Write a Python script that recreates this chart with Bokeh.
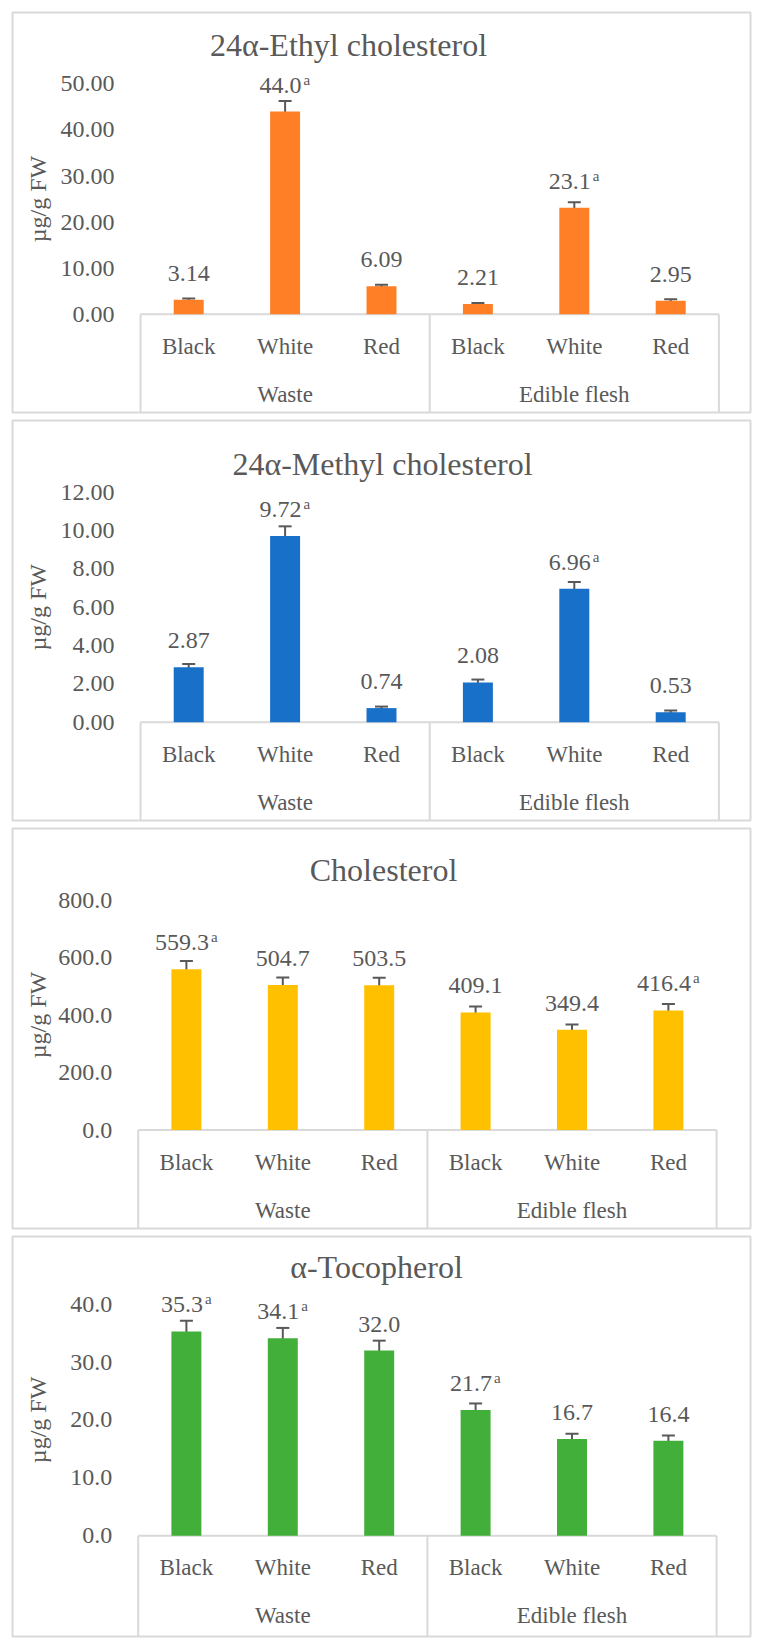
import math
from bokeh.plotting import figure
from bokeh.models import Range1d, FixedTicker, ColumnDataSource, Whisker, TeeHead, LinearAxis
from bokeh.layouts import column
from bokeh.embed import file_html
from bokeh.resources import INLINE
from bokeh.core.properties import value

# ---------------- data ----------------
groups = ["Waste", "Edible flesh"]
categories = ["Black", "White", "Red"]

ethyl_title = "24α-Ethyl cholesterol"
ethyl_values = [3.14, 44.0, 6.09, 2.21, 23.1, 2.95]
ethyl_errors = [0.3, 2.3, 0.3, 0.25, 1.2, 0.3]
ethyl_labels = ["3.14", "44.0", "6.09", "2.21", "23.1", "2.95"]
ethyl_sup = ["", "a", "", "", "a", ""]
ethyl_ticks = [0, 10, 20, 30, 40, 50]
ethyl_tick_labels = ["0.00", "10.00", "20.00", "30.00", "40.00", "50.00"]

methyl_title = "24α-Methyl cholesterol"
methyl_values = [2.87, 9.72, 0.74, 2.08, 6.96, 0.53]
methyl_errors = [0.17, 0.5, 0.08, 0.15, 0.36, 0.08]
methyl_labels = ["2.87", "9.72", "0.74", "2.08", "6.96", "0.53"]
methyl_sup = ["", "a", "", "", "a", ""]
methyl_ticks = [0, 2, 4, 6, 8, 10, 12]
methyl_tick_labels = ["0.00", "2.00", "4.00", "6.00", "8.00", "10.00", "12.00"]

chol_title = "Cholesterol"
chol_values = [559.3, 504.7, 503.5, 409.1, 349.4, 416.4]
chol_errors = [29, 26, 26, 21, 18, 22]
chol_labels = ["559.3", "504.7", "503.5", "409.1", "349.4", "416.4"]
chol_sup = ["a", "", "", "", "", "a"]
chol_ticks = [0, 200, 400, 600, 800]
chol_tick_labels = ["0.0", "200.0", "400.0", "600.0", "800.0"]

toco_title = "α-Tocopherol"
toco_values = [35.3, 34.1, 32.0, 21.7, 16.7, 16.4]
toco_errors = [1.85, 1.8, 1.7, 1.15, 0.9, 0.9]
toco_labels = ["35.3", "34.1", "32.0", "21.7", "16.7", "16.4"]
toco_sup = ["a", "a", "", "a", "", ""]
toco_ticks = [0, 10, 20, 30, 40]
toco_tick_labels = ["0.0", "10.0", "20.0", "30.0", "40.0"]

y_label = "µg/g FW"

# ---------------- style / layout ----------------
FONT = "Liberation Serif"
TXT = "#595959"
LINE = "#d9d9d9"
ERR = "#595959"
PANEL_PITCH = 408
FRAME_H = 400
FRAME_L, FRAME_R = 12, 750
UNIT = 96.4            # px per category slot
BAR_W = 0.311


def text_width(s, size):
    w = 0.0
    for ch in s:
        w += 0.25 if ch == "." else 0.5
    return w * size


def make_panel(idx, title, vals, errs, labels, sups, color, ticks, tick_labels, geom):
    frame_top = 12 + PANEL_PITCH * idx
    frame_bottom = frame_top + FRAME_H
    top_border = 12 if idx == 0 else 4
    fig_h = FRAME_H + top_border + 4
    z, t = geom["zero"], geom["top"]
    T = ticks[-1]
    ppu = (z - t) / T
    y0 = -(frame_bottom - z) / ppu
    y1 = (z - frame_top) / ppu
    L = geom["left"]
    x0 = -0.5 - (L - FRAME_L) / UNIT
    x1 = x0 + (FRAME_R - FRAME_L) / UNIT

    p = figure(width=FRAME_R + 4, height=fig_h, x_range=Range1d(x0, x1), y_range=Range1d(y0, y1),
               output_backend="svg", toolbar_location=None,
               x_axis_type=None, y_axis_type=None,
               min_border_left=FRAME_L, min_border_right=4, min_border_top=top_border,
               min_border_bottom=4)
    p.outline_line_color = LINE
    p.outline_line_width = 2
    p.background_fill_color = "white"
    p.border_fill_color = "white"

    n = len(vals)
    xs = list(range(n))

    # y axis
    ax = LinearAxis(ticker=FixedTicker(ticks=ticks), fixed_location=-0.5)
    ax.major_label_overrides = {tk: lb for tk, lb in zip(ticks, tick_labels)}
    ax.axis_line_color = None
    ax.major_tick_line_color = None
    ax.minor_tick_line_color = None
    ax.major_tick_in = 0
    ax.major_tick_out = 0
    ax.major_label_standoff = 26
    ax.major_label_text_font = FONT
    ax.major_label_text_font_size = "24px"
    ax.major_label_text_color = TXT
    p.add_layout(ax, "left")

    # category box lines
    ncat = len(categories)
    p.segment(x0=[-0.5], y0=[0], x1=[n - 0.5], y1=[0], line_color=LINE, line_width=2)
    vx = [g * ncat - 0.5 for g in range(len(groups) + 1)]
    p.segment(x0=vx, y0=[0] * len(vx), x1=vx, y1=[y0] * len(vx), line_color=LINE, line_width=2)

    # bars
    p.vbar(x=xs, top=vals, bottom=0, width=BAR_W, fill_color=color, line_color=None)

    # error bars
    src = ColumnDataSource(dict(x=xs, upper=[v + e for v, e in zip(vals, errs)],
                                lower=[v - e for v, e in zip(vals, errs)]))
    w = Whisker(base="x", upper="upper", lower="lower", source=src,
                line_color=ERR, line_width=2,
                upper_head=TeeHead(size=13, line_color=ERR, line_width=2),
                lower_head=TeeHead(size=13, line_color=ERR, line_width=2))
    p.add_layout(w)

    # data labels (y = visual centre of the text)
    main_x, main_y, sup_x, sup_y, sup_t = [], [], [], [], []
    for i, (v, lb, s) in enumerate(zip(vals, labels, sups)):
        wm = text_width(lb, 24)
        if s:
            main_x.append(i - 4.5 / UNIT)
            sup_x.append(i + (wm / 2 - 2.5) / UNIT)
            sup_y.append(v + 32 / ppu)
            sup_t.append(s)
        else:
            main_x.append(i)
        main_y.append(v + 26.5 / ppu)
    p.text(x=main_x, y=main_y, text=labels, text_align="center", text_baseline="alphabetic",
           text_font=value(FONT), text_font_size="24px", text_color=TXT)
    if sup_t:
        p.text(x=sup_x, y=sup_y, text=sup_t, text_align="left", text_baseline="alphabetic",
               text_font=value(FONT), text_font_size="15px", text_color=TXT)

    # category labels
    cat_labels = [c for g in groups for c in categories]
    p.text(x=xs, y=[-32 / ppu] * n, text=cat_labels, text_align="center",
           text_baseline="alphabetic", text_font=value(FONT), text_font_size="23px", text_color=TXT)
    gx = [g * ncat + (ncat - 1) / 2 for g in range(len(groups))]
    p.text(x=gx, y=[-80 / ppu] * len(groups), text=groups, text_align="center",
           text_baseline="alphabetic", text_font=value(FONT), text_font_size="23px", text_color=TXT)

    # axis title
    p.text(x=[(37 - L) / UNIT - 0.5], y=[T / 2], text=[y_label], angle=math.pi / 2,
           text_align="center", text_baseline="alphabetic", text_font=value(FONT),
           text_font_size="24px", text_color=TXT)

    # chart title
    p.text(x=[(geom["title_x"] - L) / UNIT - 0.5], y=[(z - geom["title_y"]) / ppu], text=[title],
           text_align="center", text_baseline="alphabetic", text_font=value(FONT),
           text_font_size="32px", text_color=TXT)
    return p


p1 = make_panel(0, ethyl_title, ethyl_values, ethyl_errors, ethyl_labels, ethyl_sup, "#FF7F27",
                ethyl_ticks, ethyl_tick_labels,
                dict(zero=313.8, top=83.4, left=140.0, title_x=348, title_y=44))
p2 = make_panel(1, methyl_title, methyl_values, methyl_errors, methyl_labels, methyl_sup, "#1870C8",
                methyl_ticks, methyl_tick_labels,
                dict(zero=721.8, top=491.7, left=140.0, title_x=382, title_y=463))
p3 = make_panel(2, chol_title, chol_values, chol_errors, chol_labels, chol_sup, "#FFC000",
                chol_ticks, chol_tick_labels,
                dict(zero=1129.6, top=899.6, left=137.7, title_x=383, title_y=869))
p4 = make_panel(3, toco_title, toco_values, toco_errors, toco_labels, toco_sup, "#43AF3B",
                toco_ticks, toco_tick_labels,
                dict(zero=1535.2, top=1303.7, left=137.7, title_x=376, title_y=1266))

layout = column(p1, p2, p3, p4, spacing=0)
open("out.html", "w").write(file_html(layout, INLINE))
